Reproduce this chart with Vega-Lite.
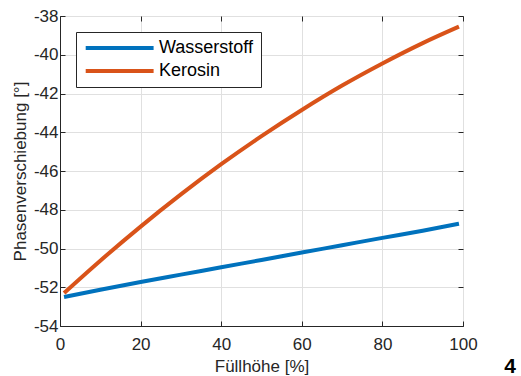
{
  "$schema": "https://vega.github.io/schema/vega-lite/v6.json",
  "width": 403,
  "height": 310,
  "autosize": {"type": "none"},
  "padding": {"left": 60, "top": 16, "right": 58, "bottom": 50},
  "background": "white",
  "config": {
    "font": "Liberation Sans",
    "view": {"stroke": "#262626", "strokeWidth": 1}
  },
  "title": {
    "text": "4",
    "orient": "bottom",
    "anchor": "end",
    "frame": "group",
    "align": "right",
    "fontSize": 21,
    "fontWeight": "bold",
    "color": "#000000",
    "dx": 53,
    "dy": -22
  },
  "data": {
    "values": [
      {"h": 1, "p": -52.5, "s": "Wasserstoff"},
      {"h": 10, "p": -52.13, "s": "Wasserstoff"},
      {"h": 20, "p": -51.73, "s": "Wasserstoff"},
      {"h": 30, "p": -51.35, "s": "Wasserstoff"},
      {"h": 40, "p": -50.97, "s": "Wasserstoff"},
      {"h": 50, "p": -50.59, "s": "Wasserstoff"},
      {"h": 60, "p": -50.21, "s": "Wasserstoff"},
      {"h": 70, "p": -49.83, "s": "Wasserstoff"},
      {"h": 80, "p": -49.45, "s": "Wasserstoff"},
      {"h": 90, "p": -49.08, "s": "Wasserstoff"},
      {"h": 99, "p": -48.72, "s": "Wasserstoff"},
      {"h": 1, "p": -52.3, "s": "Kerosin"},
      {"h": 10, "p": -50.63, "s": "Kerosin"},
      {"h": 20, "p": -48.87, "s": "Kerosin"},
      {"h": 30, "p": -47.21, "s": "Kerosin"},
      {"h": 40, "p": -45.65, "s": "Kerosin"},
      {"h": 50, "p": -44.2, "s": "Kerosin"},
      {"h": 60, "p": -42.85, "s": "Kerosin"},
      {"h": 70, "p": -41.59, "s": "Kerosin"},
      {"h": 80, "p": -40.45, "s": "Kerosin"},
      {"h": 90, "p": -39.4, "s": "Kerosin"},
      {"h": 99, "p": -38.55, "s": "Kerosin"}
    ]
  },
  "layer": [
    {
      "mark": {"type": "line", "strokeWidth": 4, "strokeCap": "butt", "interpolate": "monotone"},
      "encoding": {
        "x": {
          "field": "h",
          "type": "quantitative",
          "scale": {"domain": [0, 100], "nice": false, "zero": false},
          "axis": {
            "title": "Füllhöhe [%]",
            "values": [0, 20, 40, 60, 80, 100],
            "tickSize": -5,
            "labelPadding": 15,
            "labelFontSize": 17,
            "labelColor": "#262626",
            "titleFontSize": 17,
            "titleFontWeight": "normal",
            "titleColor": "#262626",
            "titlePadding": 6,
            "domainColor": "#262626",
            "tickColor": "#262626",
            "gridColor": "#e0e0e0",
            "labelFlush": false
          }
        },
        "y": {
          "field": "p",
          "type": "quantitative",
          "scale": {"domain": [-54, -38], "nice": false, "zero": false},
          "axis": {
            "title": "Phasenverschiebung [°]",
            "values": [-54, -52, -50, -48, -46, -44, -42, -40, -38],
            "labelExpr": "'' + datum.value",
            "tickSize": -5,
            "labelPadding": 7,
            "labelFontSize": 17,
            "labelColor": "#262626",
            "titleFontSize": 17,
            "titleFontWeight": "normal",
            "titleColor": "#262626",
            "titlePadding": 4,
            "domainColor": "#262626",
            "tickColor": "#262626",
            "gridColor": "#e0e0e0",
            "labelFlush": false
          }
        },
        "color": {
          "field": "s",
          "type": "nominal",
          "sort": ["Wasserstoff", "Kerosin"],
          "scale": {"domain": ["Wasserstoff", "Kerosin"], "range": ["#0072BD", "#D95319"]},
          "legend": {
            "title": null,
            "orient": "none",
            "legendX": 16,
            "legendY": 16,
            "symbolType": "M-1.8,0H17.6",
            "symbolSize": 49,
            "symbolStrokeWidth": 4,
            "labelFontSize": 18,
            "labelColor": "#000000",
            "labelOffset": 58,
            "rowPadding": 5,
            "strokeColor": "#262626",
            "fillColor": "white",
            "padding": 7
          }
        }
      }
    },
    {
      "mark": {"type": "line", "strokeOpacity": 0},
      "encoding": {
        "x": {
          "field": "h",
          "type": "quantitative",
          "axis": {
            "orient": "top",
            "title": null,
            "labels": false,
            "grid": false,
            "domain": false,
            "values": [0, 20, 40, 60, 80, 100],
            "tickSize": -5,
            "tickColor": "#262626"
          }
        },
        "y": {
          "field": "p",
          "type": "quantitative",
          "axis": {
            "orient": "right",
            "title": null,
            "labels": false,
            "grid": false,
            "domain": false,
            "values": [-54, -52, -50, -48, -46, -44, -42, -40, -38],
            "tickSize": -5,
            "tickColor": "#262626"
          }
        }
      }
    }
  ],
  "resolve": {"axis": {"x": "independent", "y": "independent"}}
}
